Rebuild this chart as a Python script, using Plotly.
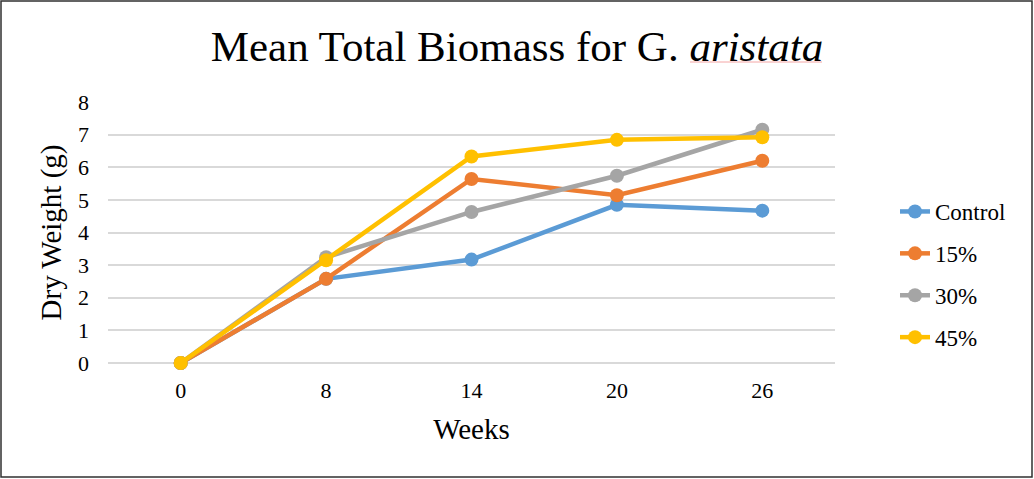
import plotly.graph_objects as go

weeks = ["0", "8", "14", "20", "26"]
series_names = ["Control", "15%", "30%", "45%"]
control = [0, 2.58, 3.17, 4.85, 4.67]
pct15 = [0, 2.58, 5.64, 5.14, 6.20]
pct30 = [0, 3.24, 4.63, 5.74, 7.15]
pct45 = [0, 3.15, 6.33, 6.84, 6.92]
colors = ["#5B9BD5", "#ED7D31", "#A5A5A5", "#FFC000"]

FONT = "Liberation Serif"

fig = go.Figure()
for i, (name, vals) in enumerate(zip(series_names, [control, pct15, pct30, pct45])):
    fig.add_trace(go.Scatter(
        x=weeks, y=vals, name=name, mode="lines+markers",
        line=dict(color=colors[i], width=4.5),
        marker=dict(color=colors[i], size=14),
        legendgroup=name, cliponaxis=False,
    ))

L, R, T, B = 108, 199, 102, 116
W, H = 1034, 479
pw, ph = W - L - R, H - T - B

def px(x):
    return (x - L) / pw

def py(y):
    return (H - B - y) / ph

fig.update_layout(
    width=W, height=H,
    margin=dict(l=L, r=R, t=T, b=B),
    paper_bgcolor="white", plot_bgcolor="white",
    font=dict(family=FONT, color="black", size=22),
    title=dict(text="Mean Total Biomass for G. <i>aristata</i>", x=0.5, xref="container",
               y=1 - 46 / H, yanchor="middle", font=dict(size=43, family=FONT)),
    xaxis=dict(title=dict(text="Weeks", font=dict(size=29), standoff=16),
               range=[-0.5, 4.5],
               showgrid=False, showline=False, zeroline=False, ticks="",
               ticklabelstandoff=12, tickfont=dict(size=22)),
    yaxis=dict(title=dict(text="Dry Weight (g)", font=dict(size=29), standoff=7),
               range=[0, 8], dtick=1, showgrid=True, gridcolor="#D9D9D9", gridwidth=1.5,
               zeroline=True, zerolinecolor="#D9D9D9", zerolinewidth=1.5,
               showline=False, ticks="", ticklabelstandoff=18, tickfont=dict(size=22)),
    legend=dict(x=px(895), xanchor="left", y=py(190), yanchor="top",
                font=dict(size=23, family=FONT), tracegroupgap=9, bgcolor="rgba(0,0,0,0)"),
    showlegend=True,
)

# outer chart border
fig.add_shape(type="rect", xref="paper", yref="paper",
              x0=px(1), x1=px(1032), y0=py(477), y1=py(1),
              line=dict(color="#303030", width=1.5), fillcolor="rgba(0,0,0,0)", layer="below")
# spell-check underline under "aristata"
fig.add_shape(type="line", xref="paper", yref="paper",
              x0=px(690), x1=px(822), y0=py(62), y1=py(62),
              line=dict(color="#F4A6A6", width=1))

fig.write_html("out.html", post_script="document.body.style.margin='0';",
               config={"displayModeBar": False})
